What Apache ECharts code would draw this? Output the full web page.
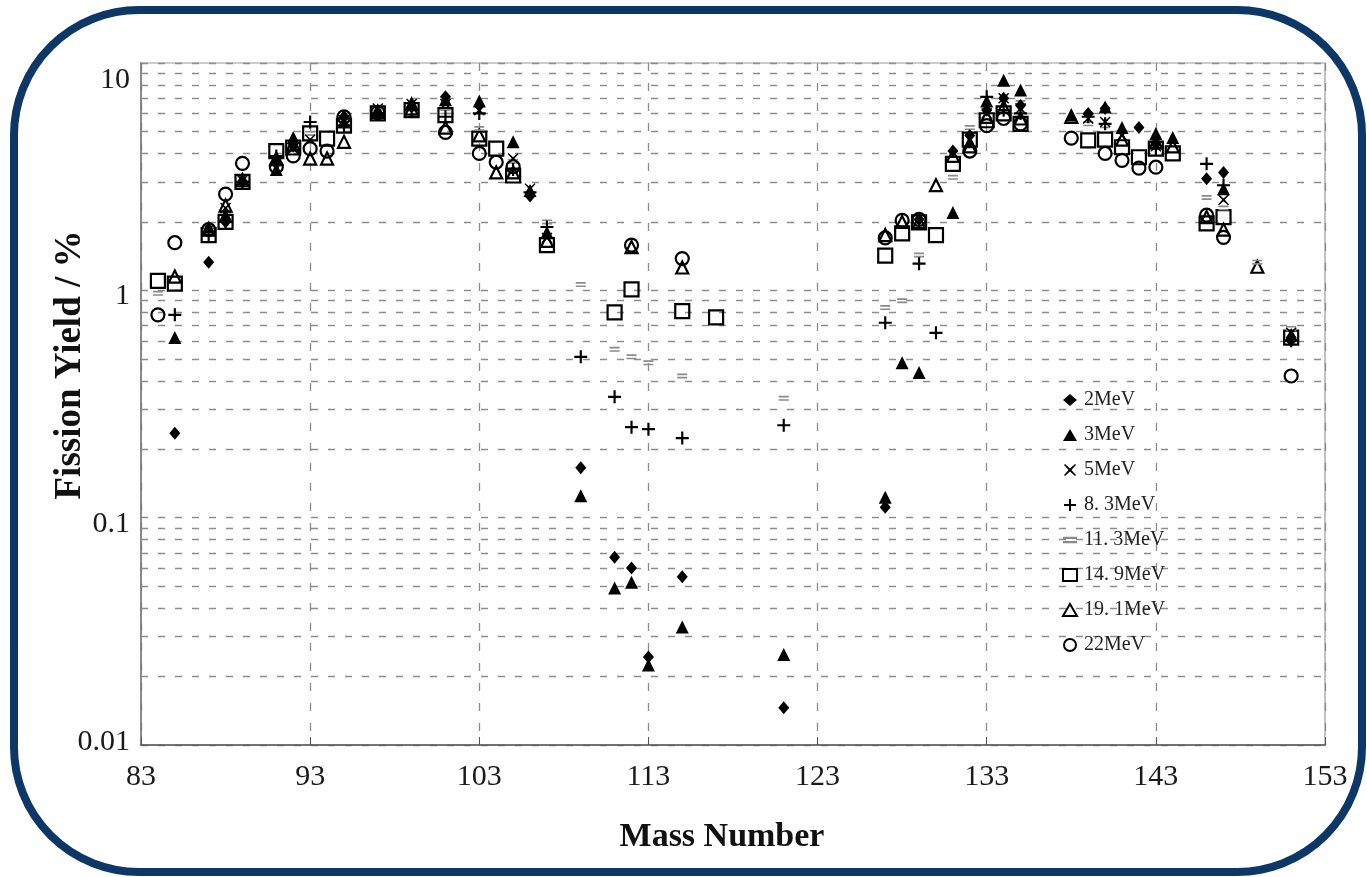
<!DOCTYPE html>
<html>
<head>
<meta charset="utf-8">
<title>Fission Yield vs Mass Number</title>
<script src="https://cdn.jsdelivr.net/npm/echarts/dist/echarts.min.js"></script>
<style>
  html, body { margin: 0; padding: 0; background: #ffffff; }
  #chart { width: 1367px; height: 877px; }
</style>
</head>
<body>
<div id="chart"></div>
<script>
// Mass-yield data, one pair of arrays per neutron energy
const mass2MeV  = [85,87,88,89,91,92,95,97,99,101,103,106,109,111,112,113,115,121,127,129,131,132,133,134,135,139,140,142,143,146,147,151];
const yield2MeV = [0.235,1.33,2.0,3.0,3.6,4.3,5.8,6.0,6.4,7.1,6.5,2.6,0.166,0.067,0.060,0.0244,0.055,0.0146,0.111,2.05,4.1,4.8,6.2,7.0,6.5,6.0,6.3,5.2,4.4,3.1,3.3,0.6];

const mass3MeV  = [85,87,88,89,91,92,95,97,99,101,103,105,106,107,109,111,112,113,115,121,127,128,129,131,132,133,134,135,138,140,141,143,144,147,151];
const yield3MeV = [0.62,1.9,2.15,3.1,3.4,4.7,5.5,6.2,6.7,6.9,6.8,4.5,2.75,1.8,0.125,0.049,0.052,0.0225,0.033,0.025,0.123,0.48,0.435,2.2,4.5,6.8,8.4,7.6,5.9,6.4,5.2,4.9,4.7,2.8,0.64];

const mass5MeV  = [87,88,89,91,92,93,95,97,99,101,103,105,106,107,133,134,135,139,140,141,143,147,151];
const yield5MeV = [1.85,2.3,3.05,3.7,4.2,4.6,5.6,6.3,6.6,6.6,6.2,3.8,2.8,1.7,6.0,7.0,6.3,5.7,5.5,4.8,4.3,2.5,0.65];

const mass8MeV  = [85,87,88,89,91,93,95,97,99,101,103,105,106,107,109,111,112,113,115,121,127,129,130,133,134,135,139,140,143,146,147,151];
const yield8MeV = [0.78,1.75,2.0,3.0,3.9,5.5,5.3,6.0,6.2,5.8,6.0,3.4,2.7,1.9,0.51,0.34,0.25,0.245,0.224,0.255,0.72,1.31,0.65,7.1,6.2,6.0,5.8,5.4,4.2,3.6,2.9,0.6];

const mass11MeV  = [84,87,89,93,97,101,103,105,107,109,111,112,113,115,121,127,128,129,131,132,135,139,140,146,147,149,151];
const yield11MeV = [0.97,1.85,3.1,4.9,6.1,6.1,5.15,3.7,2.0,1.06,0.55,0.51,0.48,0.42,0.335,0.84,0.9,1.43,3.14,5.2,6.7,5.4,5.3,2.56,2.3,1.33,0.68];

const mass15MeV  = [84,85,87,88,89,91,92,93,94,95,97,99,101,103,104,105,107,111,112,115,117,127,128,129,130,131,132,133,134,135,139,140,141,142,143,144,146,147,151];
const yield15MeV = [1.1,1.07,1.75,2.0,3.0,4.1,4.25,4.9,4.65,5.3,6.0,6.2,5.9,4.65,4.2,3.2,1.58,0.80,1.01,0.81,0.76,1.42,1.78,1.99,1.75,3.6,4.6,5.6,6.0,5.4,4.57,4.6,4.26,3.85,4.2,4.0,1.97,2.1,0.62];

const mass19MeV  = [85,87,88,89,91,92,93,94,95,97,99,101,103,104,105,107,112,115,127,128,129,130,131,132,133,134,135,138,141,143,144,146,147,149];
const yield19MeV = [1.15,1.85,2.36,3.05,3.8,4.4,3.8,3.8,4.5,6.1,6.3,5.2,4.8,3.3,3.3,1.65,1.55,1.26,1.75,2.0,2.0,2.9,3.9,4.3,5.8,6.4,5.7,5.8,4.6,4.5,4.3,2.1,1.85,1.27];

const mass22MeV  = [84,85,87,88,89,91,92,93,94,95,97,101,103,104,105,112,115,127,128,129,132,133,134,135,138,140,141,142,143,146,147,151];
const yield22MeV = [0.78,1.62,1.85,2.65,3.62,3.5,3.9,4.2,4.1,5.8,6.05,4.95,4.0,3.66,3.5,1.58,1.38,1.7,2.03,2.05,4.1,5.3,5.7,5.4,4.67,4.0,3.73,3.45,3.48,2.14,1.71,0.42];

// Legend labels in display order
const energyLabels = ['2MeV', '3MeV', '5MeV', '8. 3MeV', '11. 3MeV', '14. 9MeV', '19. 1MeV', '22MeV'];

// Minor grid levels inside each decade of the log axis
const decades = [0.01, 0.1, 1];
const minorSteps = [2, 3, 4, 5, 6, 7, 8, 9];

const SERIF = '"Liberation Serif", "DejaVu Serif", serif';

function pairs(xs, ys) { return xs.map((x, i) => [x, ys[i]]); }

const PLUS_PATH  = 'path://M5,0H7V5H12V7H7V12H5V7H0V5H5Z';
const CROSS_PATH = 'path://M1,0L6,4.6L11,0L12,1L7.4,6L12,11L11,12L6,7.4L1,12L0,11L4.6,6L0,1Z';
const DASH_PATH  = 'path://M0,0H10V1.6H0Z M0,3.2H10V4.8H0Z';

const openStyle = { color: 'rgba(255,255,255,0)', borderColor: '#000', borderWidth: 2.2, opacity: 1 };
const solidStyle = { color: '#000', opacity: 1 };

const minorLines = [];
decades.forEach(d => minorSteps.forEach(s => minorLines.push({ yAxis: +(d * s).toPrecision(3) })));

const seriesDefs = [
  { name: energyLabels[7], data: pairs(mass22MeV, yield22MeV), symbol: 'circle', symbolSize: 13, itemStyle: openStyle },
  { name: energyLabels[6], data: pairs(mass19MeV, yield19MeV), symbol: 'triangle', symbolSize: 12, itemStyle: openStyle },
  { name: energyLabels[5], data: pairs(mass15MeV, yield15MeV), symbol: 'rect', symbolSize: 14, itemStyle: openStyle },
  { name: energyLabels[4], data: pairs(mass11MeV, yield11MeV), symbol: DASH_PATH, symbolSize: [10, 5], itemStyle: { color: '#8a8a8a', opacity: 1 } },
  { name: energyLabels[3], data: pairs(mass8MeV, yield8MeV), symbol: PLUS_PATH, symbolSize: 13, itemStyle: solidStyle },
  { name: energyLabels[2], data: pairs(mass5MeV, yield5MeV), symbol: CROSS_PATH, symbolSize: 11, itemStyle: solidStyle },
  { name: energyLabels[1], data: pairs(mass3MeV, yield3MeV), symbol: 'triangle', symbolSize: 13, itemStyle: solidStyle },
  { name: energyLabels[0], data: pairs(mass2MeV, yield2MeV), symbol: 'diamond', symbolSize: [11, 13], itemStyle: solidStyle }
];

const series = seriesDefs.map((s, i) => Object.assign({
  type: 'scatter',
  z: 3 + i,
  silent: true
}, s));

// dashed gridlines at 2..9 of each decade
series[0].markLine = {
  silent: true,
  z: 1,
  symbol: ['none', 'none'],
  label: { show: false },
  lineStyle: { color: '#8c8c8c', type: [7, 10], width: 1.3 },
  data: minorLines
};

// vertical nudges for the decade labels
const yLabelStyle = {
  top: { padding: [34, 0, 0, 0] },
  mid: { padding: [12, 0, 0, 0] },
  low: { padding: [0, 0, 6, 0] }
};

const chart = echarts.init(document.getElementById('chart'), null, { renderer: 'canvas' });

chart.setOption({
  backgroundColor: '#ffffff',
  animation: false,
  grid: {
    left: 141, right: 42, top: 63, bottom: 132,
    show: true, borderColor: '#9a9a9a', borderWidth: 1.2
  },
  xAxis: {
    type: 'value',
    min: 83, max: 153, interval: 10,
    name: 'Mass Number',
    nameLocation: 'middle',
    nameGap: 75,
    nameTextStyle: { fontFamily: SERIF, fontSize: 34, fontWeight: 'bold', color: '#111', padding: [0, 22, 0, 0] },
    axisLine: { show: true, lineStyle: { color: '#555', width: 1.5 } },
    axisTick: { show: true, inside: true, length: 8, lineStyle: { color: '#555' } },
    axisLabel: { fontFamily: SERIF, fontSize: 30, color: '#1a1a1a', margin: 17 },
    splitLine: { show: true, lineStyle: { color: '#8c8c8c', type: [8, 12], width: 1.3 } }
  },
  yAxis: {
    type: 'log',
    logBase: 10,
    min: 0.01, max: 10,
    axisLine: { show: true, lineStyle: { color: '#777', width: 1.5 } },
    axisTick: { show: false },
    axisLabel: {
      fontFamily: SERIF, fontSize: 30, color: '#1a1a1a', margin: 11,
      formatter: v => {
        const t = String(+v.toPrecision(3));
        const k = v >= 9.99 ? 'top' : (v <= 0.0101 ? 'low' : 'mid');
        return '{' + k + '|' + t + '}';
      },
      rich: {
        top: Object.assign({ fontFamily: SERIF, fontSize: 30, color: '#1a1a1a' }, yLabelStyle.top),
        mid: Object.assign({ fontFamily: SERIF, fontSize: 30, color: '#1a1a1a' }, yLabelStyle.mid),
        low: Object.assign({ fontFamily: SERIF, fontSize: 30, color: '#1a1a1a' }, yLabelStyle.low)
      }
    },
    splitLine: { show: true, lineStyle: { color: '#8c8c8c', type: [7, 10], width: 1.3 } }
  },
  legend: {
    orient: 'vertical',
    left: 1057,
    top: 385,
    itemWidth: 14,
    itemHeight: 12,
    itemGap: 15,
    data: energyLabels,
    textStyle: { fontFamily: SERIF, fontSize: 20, color: '#222', lineHeight: 20, padding: [0, 0, 0, 2] }
  },
  graphic: [
    {
      type: 'text',
      x: 70, y: 365,
      rotation: Math.PI / 2,
      style: {
        text: 'Fission Yield / %',
        fontFamily: SERIF, fontSize: 37, fontWeight: 'bold',
        fill: '#111',
        align: 'center', verticalAlign: 'middle',
        textAlign: 'center', textVerticalAlign: 'middle'
      }
    },
    {
      type: 'rect',
      z: 100,
      silent: true,
      shape: { x: 14, y: 10, width: 1348, height: 862, r: 125 },
      style: { fill: 'none', stroke: '#0d3766', lineWidth: 8 }
    }
  ],
  series: series
});
</script>
</body>
</html>
